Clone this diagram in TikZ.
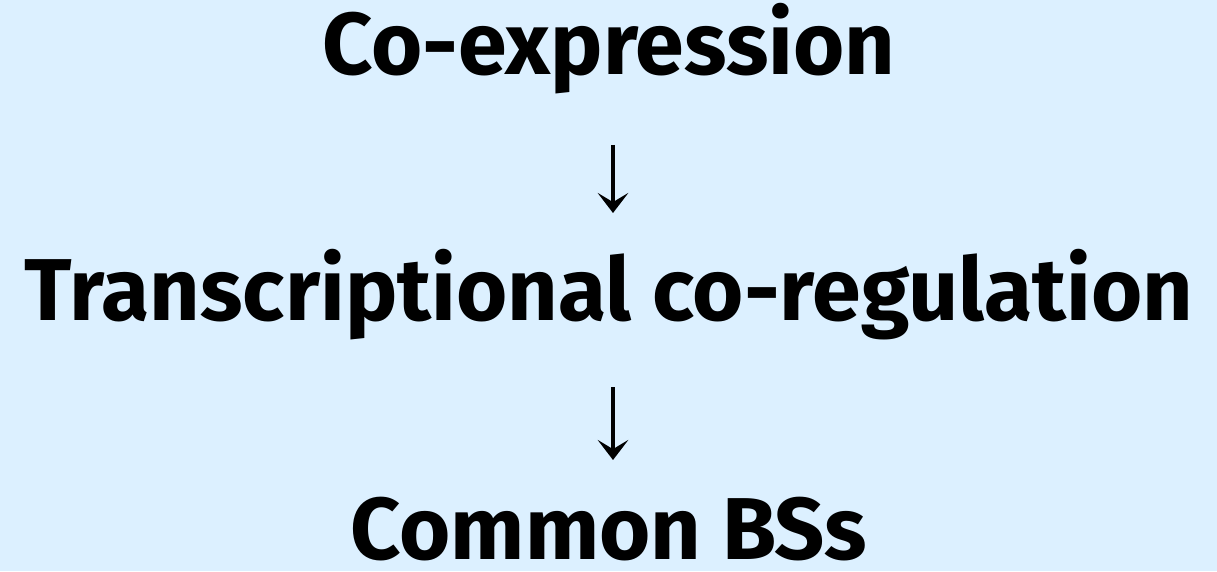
\documentclass[tikz,border=0pt]{standalone}
\usepackage{fontspec}
\setmainfont{Fira Sans}
\usetikzlibrary{arrows.meta,positioning}
\definecolor{paleblue}{HTML}{DCF0FF}

\begin{document}
\begin{tikzpicture}[x=1cm,y=1cm,
    step label/.style={font=\fontsize{25}{30}\selectfont\bfseries,inner sep=0pt,anchor=base},
    flow/.style={-{Stealth[length=5.7pt,width=8.7pt,inset=2.6pt]},line width=1.15pt}]
  \fill[paleblue] (0,0) rectangle (12.17,5.71);
  \node[step label] (coexp) at (6.09,4.96) {Co-expression};
  \node[step label] (coreg) at (6.09,2.51) {Transcriptional co-regulation};
  \node[step label] (bs) at (6.09,0.12) {Common BSs};
  % arrow ends hang off the baselines
  \coordinate (a1top) at ([xshift=0.04cm,yshift=-0.70cm]coexp.base);
  \coordinate (a1bot) at ([xshift=0.04cm,yshift=1.07cm]coreg.base);
  \coordinate (a2top) at ([xshift=0.04cm,yshift=-0.67cm]coreg.base);
  \coordinate (a2bot) at ([xshift=0.04cm,yshift=0.99cm]bs.base);
  \draw[flow] (a1top) -- (a1bot);
  \draw[flow] (a2top) -- (a2bot);
\end{tikzpicture}
\end{document}
